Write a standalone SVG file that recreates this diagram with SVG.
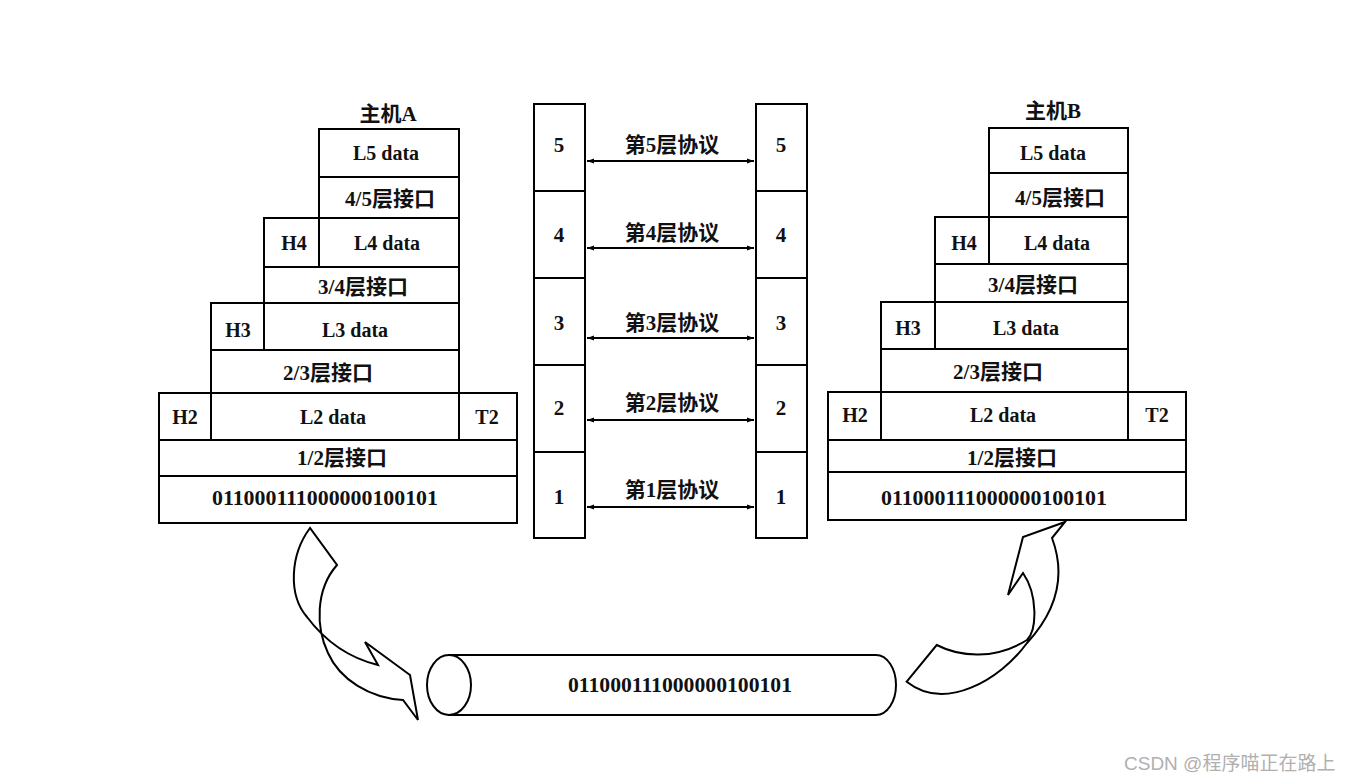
<svg xmlns="http://www.w3.org/2000/svg" width="1351" height="782" viewBox="0 0 1351 782">
<style>
.b{fill:#fff;stroke:#000;stroke-width:2}
.s{fill:none;stroke:#000;stroke-width:2}
.t{font-family:"Liberation Serif","Noto Sans CJK SC",serif;font-weight:bold;font-size:20px;text-anchor:middle;fill:#111}
.c{font-family:"Liberation Serif","Noto Sans CJK SC",serif;font-weight:bold;font-size:21px;text-anchor:middle;fill:#111}
.p{font-family:"Liberation Serif","Noto Sans CJK SC",serif;font-weight:bold;font-size:21px;text-anchor:middle;fill:#111}
.w{font-family:"Liberation Sans","Noto Sans CJK SC",sans-serif;font-size:19px;fill:#b0b0b0}
</style>
<defs>
<marker id="ah" viewBox="0 0 10 10" refX="10" refY="5" markerWidth="10" markerHeight="7" markerUnits="userSpaceOnUse" orient="auto-start-reverse">
<path d="M0,1.5 L10,5 L0,8.5 Z" fill="#000"/>
</marker>
</defs>
<rect width="1351" height="782" fill="#fff"/>

<g id="hostA">
<text class="c" x="388" y="121">主机A</text>
<rect class="b" x="319" y="129" width="140" height="48"/>
<text class="t" x="386" y="160">L5 data</text>
<rect class="b" x="319" y="177" width="140" height="41"/>
<text class="c" x="390" y="206">4/5层接口</text>
<rect class="b" x="264" y="218" width="55" height="49"/>
<text class="t" x="294" y="250">H4</text>
<rect class="b" x="319" y="218" width="140" height="49"/>
<text class="t" x="387" y="250">L4 data</text>
<rect class="b" x="264" y="267" width="195" height="36"/>
<text class="c" x="363" y="294">3/4层接口</text>
<rect class="b" x="211" y="303" width="53" height="47"/>
<text class="t" x="238" y="337">H3</text>
<rect class="b" x="264" y="303" width="195" height="47"/>
<text class="t" x="355" y="337">L3 data</text>
<rect class="b" x="211" y="350" width="248" height="43"/>
<text class="c" x="328" y="380">2/3层接口</text>
<rect class="b" x="159" y="393" width="52" height="47"/>
<text class="t" x="185" y="424">H2</text>
<rect class="b" x="211" y="393" width="248" height="47"/>
<text class="t" x="333" y="424">L2 data</text>
<rect class="b" x="459" y="393" width="58" height="47"/>
<text class="t" x="487" y="424">T2</text>
<rect class="b" x="159" y="440" width="358" height="36"/>
<text class="c" x="342" y="465">1/2层接口</text>
<rect class="b" x="159" y="476" width="358" height="47"/>
<text class="t" x="325" y="505" textLength="226" lengthAdjust="spacingAndGlyphs">011000111000000100101</text>
</g>

<g id="hostB">
<text class="c" x="1053" y="118">主机B</text>
<rect class="b" x="989" y="128" width="139" height="45"/>
<text class="t" x="1053" y="160">L5 data</text>
<rect class="b" x="989" y="173" width="139" height="44"/>
<text class="c" x="1060" y="205">4/5层接口</text>
<rect class="b" x="935" y="217" width="54" height="47"/>
<text class="t" x="964" y="250">H4</text>
<rect class="b" x="989" y="217" width="139" height="47"/>
<text class="t" x="1057" y="250">L4 data</text>
<rect class="b" x="935" y="264" width="193" height="38"/>
<text class="c" x="1033" y="292">3/4层接口</text>
<rect class="b" x="881" y="302" width="54" height="47"/>
<text class="t" x="908" y="335">H3</text>
<rect class="b" x="935" y="302" width="193" height="47"/>
<text class="t" x="1026" y="335">L3 data</text>
<rect class="b" x="881" y="349" width="247" height="43"/>
<text class="c" x="998" y="379">2/3层接口</text>
<rect class="b" x="828" y="392" width="53" height="48"/>
<text class="t" x="855" y="422">H2</text>
<rect class="b" x="881" y="392" width="247" height="48"/>
<text class="t" x="1003" y="422">L2 data</text>
<rect class="b" x="1128" y="392" width="58" height="48"/>
<text class="t" x="1157" y="422">T2</text>
<rect class="b" x="828" y="440" width="358" height="32"/>
<text class="c" x="1012" y="465">1/2层接口</text>
<rect class="b" x="828" y="472" width="358" height="48"/>
<text class="t" x="994" y="505" textLength="226" lengthAdjust="spacingAndGlyphs">011000111000000100101</text>
</g>

<g id="layersA">
<rect class="b" x="534" y="104" width="51" height="434"/>
<path class="s" d="M534,191 H585 M534,278 H585 M534,365 H585 M534,452 H585"/>
<text class="p" x="559" y="152">5</text>
<text class="p" x="559" y="242">4</text>
<text class="p" x="559" y="330">3</text>
<text class="p" x="559" y="415">2</text>
<text class="p" x="559" y="504">1</text>
</g>

<g id="layersB">
<rect class="b" x="756" y="104" width="51" height="434"/>
<path class="s" d="M756,191 H807 M756,278 H807 M756,365 H807 M756,452 H807"/>
<text class="p" x="781" y="152">5</text>
<text class="p" x="781" y="242">4</text>
<text class="p" x="781" y="330">3</text>
<text class="p" x="781" y="415">2</text>
<text class="p" x="781" y="504">1</text>
</g>

<g id="cable">
<path class="b" d="M449,655 L876,655 A20,30 0 0 1 876,715 L449,715 Z"/>
<ellipse class="b" cx="449" cy="685" rx="22" ry="30"/>
<text class="t" x="680" y="692" textLength="224" lengthAdjust="spacingAndGlyphs">011000111000000100101</text>
</g>

<g id="connectors">
<g id="protocols">
<line class="s" x1="587" y1="161" x2="754" y2="161" marker-start="url(#ah)" marker-end="url(#ah)"/>
<line class="s" x1="587" y1="248" x2="754" y2="248" marker-start="url(#ah)" marker-end="url(#ah)"/>
<line class="s" x1="587" y1="338" x2="754" y2="338" marker-start="url(#ah)" marker-end="url(#ah)"/>
<line class="s" x1="587" y1="420" x2="754" y2="420" marker-start="url(#ah)" marker-end="url(#ah)"/>
<line class="s" x1="587" y1="507" x2="754" y2="507" marker-start="url(#ah)" marker-end="url(#ah)"/>
<text class="c" x="672" y="152">第5层协议</text>
<text class="c" x="672" y="240">第4层协议</text>
<text class="c" x="672" y="330">第3层协议</text>
<text class="c" x="672" y="410">第2层协议</text>
<text class="c" x="672" y="497">第1层协议</text>
</g>
<path id="arrowDown" class="s" stroke-linejoin="miter" d="M310,528 C290,555 288,595 307,617 C322,637 345,657 378,665 L365,642 L410,675 L418,720 L403,700 C370,698 340,680 328,653 C316,628 315,590 337,565 Z"/>
<path id="arrowUp" class="s" stroke-linejoin="miter" d="M906.7,681.7 L936.7,645 C960,657 995,660 1027,640 C1037,630 1038,595 1023,573 L1008,595 L1023,537 L1065,522 L1052,538 C1064,570 1062,605 1027,643 C1000,680 945,712 906.7,681.7 Z"/>
</g>

<text class="w" x="1124" y="770">CSDN @程序喵正在路上</text>
</svg>
